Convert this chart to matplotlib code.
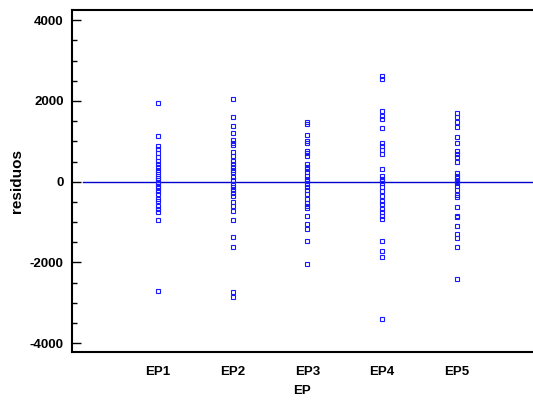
import matplotlib
matplotlib.use("Agg")
import matplotlib.pyplot as plt
from matplotlib import font_manager
from matplotlib.ticker import MultipleLocator
from matplotlib.transforms import blended_transform_factory

# Residuals per group
groups = ["EP1", "EP2", "EP3", "EP4", "EP5"]
ep1 = [1940, 1130, 890, 800, 720, 620, 520, 440, 370, 300, 230, 150, 100, 30,
       -20, -100, -160, -220, -300, -430, -480, -600, -680, -760, -960, -2700]
ep2 = [2060, 1600, 1390, 1200, 1030, 970, 920, 730, 640, 520, 440, 370, 300, 230,
       110, 30, -70, -140, -200, -280, -350, -510, -590, -720, -960, -1360, -1620,
       -2740, -2860]
ep3 = [1470, 1440, 1160, 1010, 950, 770, 700, 640, 440, 370, 310, 230, 150, 70,
       10, -60, -140, -210, -300, -430, -540, -600, -640, -840, -1050, -1170,
       -1460, -2050]
ep4 = [2620, 2540, 1740, 1630, 1550, 1340, 970, 890, 780, 690, 310, 150, 70, 10,
       -20, -140, -240, -350, -470, -550, -680, -760, -840, -920, -1460, -1710,
       -1870, -3400]
ep5 = [1700, 1610, 1470, 1350, 1110, 970, 770, 690, 600, 500, 210, 150, 80, 25,
       -40, -100, -210, -320, -390, -620, -840, -880, -1110, -1300, -1390, -1630,
       -2410]
residuals = [ep1, ep2, ep3, ep4, ep5]
y_ticks = [-4000, -2000, 0, 2000, 4000]

names = {f.name for f in font_manager.fontManager.ttflist}
narrow = "Liberation Sans Narrow" if "Liberation Sans Narrow" in names else "Liberation Sans"
narrow_size = 10.5 if narrow == "Liberation Sans Narrow" else 9.5

fig = plt.figure(figsize=(5.33, 4.0), dpi=100)
ax = fig.add_axes([72 / 533, 1 - 352 / 400, 1 - 72 / 533, (352 - 10) / 400])

for i, vals in enumerate(residuals, start=1):
    ax.plot([i] * len(vals), vals, linestyle="none", marker="s", markersize=3.4,
            markerfacecolor="none", markeredgecolor="#1a1aff", markeredgewidth=0.8,
            zorder=3)

ax.plot([0, 6], [0, 0], color="#0000cc", linewidth=1.0, zorder=2)

ax.set_xlim(-0.15, 6.02)
ax.set_ylim(-4220, 4255)

ax.set_xticks(range(1, 6))
ax.set_xticklabels(groups)
ax.set_yticks(y_ticks)
ax.set_yticklabels([str(v) for v in y_ticks])
ax.yaxis.set_minor_locator(MultipleLocator(500))

ax.tick_params(axis="y", which="major", direction="in", length=6.5, width=1.0,
               pad=6)
ax.tick_params(axis="y", which="minor", direction="in", length=3.4, width=1.0)
ax.tick_params(axis="x", which="both", length=0, pad=10)

for lab in ax.get_xticklabels() + ax.get_yticklabels():
    lab.set_fontfamily(narrow)
    lab.set_fontweight("bold")
    lab.set_fontsize(narrow_size)

ax.spines["right"].set_visible(False)
for s in ("left", "top", "bottom"):
    ax.spines[s].set_linewidth(1.5)

ax.set_ylabel("residuos", fontfamily="Liberation Sans", fontweight="bold",
              fontsize=11)
ax.yaxis.set_label_coords(17 / 533, 0.5,
                          transform=blended_transform_factory(fig.transFigure,
                                                              ax.transAxes))
ax.yaxis.label.set_verticalalignment("center")
ax.set_xlabel("EP", fontfamily=narrow, fontweight="bold", fontsize=narrow_size,
              labelpad=5)

fig.savefig("out.png", dpi=100)
